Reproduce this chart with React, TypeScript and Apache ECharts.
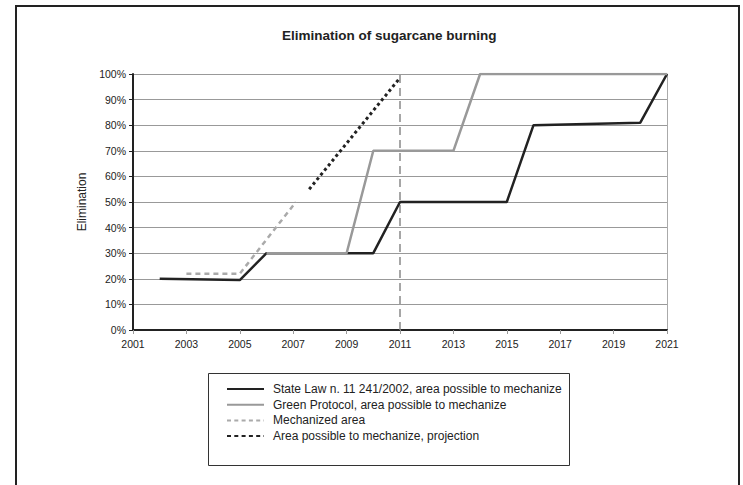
import React, { useEffect, useRef } from "react";
import * as echarts from "echarts";

const stateLaw: [number, number][] = [
  [2002, 20], [2005, 19.5], [2006, 30], [2010, 30], [2011, 50],
  [2015, 50], [2016, 80], [2020, 81], [2021, 100],
];
const greenProtocol: [number, number][] = [
  [2006, 30], [2009, 30], [2010, 70], [2013, 70], [2014, 100], [2021, 100],
];
const mechanized: [number, number][] = [
  [2003, 22], [2005, 22], [2007.1, 50],
];
const projection: [number, number][] = [
  [2007.6, 55], [2011, 98.5],
];
const markerYear: [number, number][] = [
  [2011, 0], [2011, 100],
];
const seriesNames = [
  "State Law n. 11 241/2002, area possible to mechanize",
  "Green Protocol, area possible to mechanize",
  "Mechanized area",
  "Area possible to mechanize, projection",
];

const FONT = "Liberation Sans";

export default function App() {
  const ref = useRef<HTMLDivElement>(null);
  useEffect(() => {
    document.body.style.margin = "0";
    const chart = echarts.init(ref.current!, null, { renderer: "svg" });
    chart.setOption({
      animation: false,
      backgroundColor: "#fff",
      textStyle: { fontFamily: FONT },
      title: {
        text: "Elimination of sugarcane burning",
        left: 282,
        top: 28,
        padding: 0,
        textStyle: { fontFamily: FONT, fontSize: 13.5, fontWeight: "bold", color: "#222" },
      },
      graphic: [
        {
          type: "rect",
          shape: { x: 16, y: 6, width: 723, height: 500 },
          style: { fill: "none", stroke: "#222", lineWidth: 2 },
          silent: true,
        },
        {
          type: "rect",
          shape: { x: 208.5, y: 373.5, width: 361, height: 92 },
          style: { fill: "none", stroke: "#333", lineWidth: 1 },
          silent: true,
        },
      ],
      legend: {
        orient: "vertical",
        left: 226,
        top: 383,
        padding: 0,
        itemWidth: 37,
        itemHeight: 14,
        itemGap: 3.7,
        itemStyle: { opacity: 0 },
        textStyle: { fontFamily: FONT, fontSize: 12, color: "#222", padding: [0, 0, 0, 4] },
        data: [
          { name: seriesNames[0] },
          { name: seriesNames[1] },
          { name: seriesNames[2], lineStyle: { type: [4, 3.3] } },
          { name: seriesNames[3], lineStyle: { type: [4, 3.3] } },
        ],
      },
      grid: { left: 133, right: 76, top: 74, bottom: 155 },
      xAxis: {
        type: "value",
        min: 2001,
        max: 2021,
        interval: 2,
        axisLine: { show: true, onZero: false, lineStyle: { color: "#222", width: 2 } },
        axisTick: { show: true, length: 4, lineStyle: { color: "#999", width: 1 } },
        axisLabel: { fontFamily: FONT, fontSize: 10.5, color: "#222", margin: 8, formatter: (v: number) => String(v) },
        splitLine: { show: false },
      },
      yAxis: [
        {
          type: "value",
          min: 0,
          max: 100,
          interval: 10,
          name: "Elimination",
          nameLocation: "middle",
          nameGap: 36,
          nameTextStyle: { fontFamily: FONT, fontSize: 12, color: "#222" },
          axisLine: { show: true, lineStyle: { color: "#222", width: 2 } },
          axisTick: { show: true, length: 4, lineStyle: { color: "#222", width: 1 } },
          axisLabel: { fontFamily: FONT, fontSize: 10.5, color: "#222", margin: 7, formatter: "{value}%" },
          splitLine: { show: true, lineStyle: { color: "#999", width: 1 } },
        },
        {
          type: "value",
          min: 0,
          max: 100,
          interval: 10,
          position: "right",
          axisLine: { show: true, lineStyle: { color: "#aaa", width: 1 } },
          axisTick: { show: false },
          axisLabel: { show: false },
          splitLine: { show: false },
        },
      ],
      series: [
        {
          name: "marker",
          type: "line",
          data: markerYear,
          symbol: "none",
          lineStyle: { color: "#888", width: 1.5, type: [8, 5] },
          silent: true,
          z: 1,
        },
        {
          name: seriesNames[0],
          type: "line",
          data: stateLaw,
          symbol: "none",
          color: "#222",
          lineStyle: { color: "#222", width: 2.5 },
          z: 3,
        },
        {
          name: seriesNames[1],
          type: "line",
          data: greenProtocol,
          symbol: "none",
          color: "#999",
          lineStyle: { color: "#999", width: 2.5 },
          z: 4,
        },
        {
          name: seriesNames[2],
          type: "line",
          data: mechanized,
          symbol: "none",
          color: "#aaa",
          lineStyle: { color: "#aaa", width: 2.5, type: [5, 4] },
          z: 2,
        },
        {
          name: seriesNames[3],
          type: "line",
          data: projection,
          symbol: "none",
          color: "#222",
          lineStyle: { color: "#222", width: 3, type: [3, 3] },
          z: 2,
        },
      ],
    });
    return () => chart.dispose();
  }, []);
  return <div ref={ref} style={{ width: 743, height: 485 }} />;
}
